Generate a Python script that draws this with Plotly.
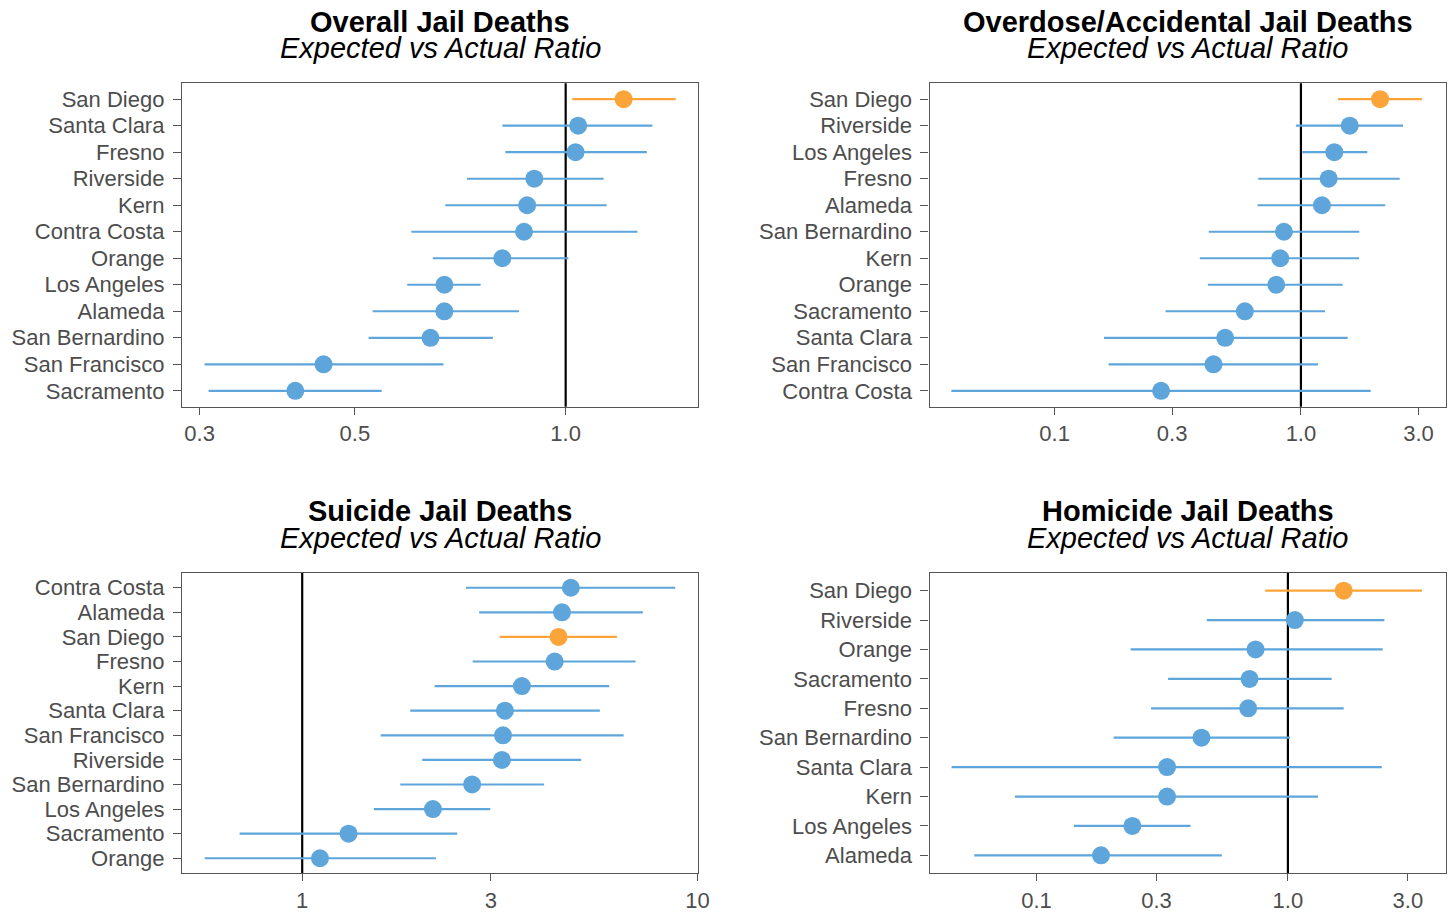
import plotly.graph_objects as go

# ---------------- data ----------------
overall_counties = ["San Diego", "Santa Clara", "Fresno", "Riverside", "Kern", "Contra Costa",
                    "Orange", "Los Angeles", "Alameda", "San Bernardino", "San Francisco", "Sacramento"]
overall_ratio = [1.21, 1.042, 1.033, 0.902, 0.881, 0.872, 0.812, 0.671, 0.671, 0.641, 0.451, 0.411]
overall_low = [1.022, 0.812, 0.820, 0.723, 0.673, 0.602, 0.646, 0.594, 0.530, 0.523, 0.305, 0.309]
overall_high = [1.436, 1.33, 1.306, 1.133, 1.144, 1.266, 1.009, 0.756, 0.858, 0.787, 0.669, 0.546]

overdose_counties = ["San Diego", "Riverside", "Los Angeles", "Fresno", "Alameda", "San Bernardino",
                     "Kern", "Orange", "Sacramento", "Santa Clara", "San Francisco", "Contra Costa"]
overdose_ratio = [2.096, 1.578, 1.366, 1.296, 1.217, 0.853, 0.824, 0.794, 0.592, 0.4925, 0.4416, 0.2705]
overdose_low = [1.414, 0.954, 1.012, 0.671, 0.667, 0.4226, 0.3886, 0.419, 0.282, 0.1586, 0.1658, 0.0381]
overdose_high = [3.10, 2.598, 1.86, 2.518, 2.20, 1.726, 1.721, 1.477, 1.252, 1.548, 1.173, 1.92]

suicide_counties = ["Contra Costa", "Alameda", "San Diego", "Fresno", "Kern", "Santa Clara",
                    "San Francisco", "Riverside", "San Bernardino", "Los Angeles", "Sacramento", "Orange"]
suicide_ratio = [4.78, 4.54, 4.45, 4.35, 3.594, 3.256, 3.219, 3.199, 2.69, 2.141, 1.31, 1.109]
suicide_low = [2.594, 2.803, 3.157, 2.698, 2.163, 1.876, 1.58, 2.012, 1.77, 1.518, 0.6945, 0.567]
suicide_high = [8.778, 7.27, 6.25, 6.97, 5.976, 5.66, 6.50, 5.077, 4.09, 2.989, 2.466, 2.178]

homicide_counties = ["San Diego", "Riverside", "Orange", "Sacramento", "Fresno", "San Bernardino",
                     "Santa Clara", "Kern", "Los Angeles", "Alameda"]
homicide_ratio = [1.667, 1.066, 0.7434, 0.7036, 0.695, 0.453, 0.3305, 0.3305, 0.2405, 0.1804]
homicide_low = [0.812, 0.4757, 0.2368, 0.3336, 0.2854, 0.2026, 0.0459, 0.08197, 0.1408, 0.0565]
homicide_high = [3.42, 2.42, 2.384, 1.493, 1.667, 1.018, 2.362, 1.317, 0.4095, 0.5458]

panel_titles = ["Overall Jail Deaths", "Overdose/Accidental Jail Deaths",
                "Suicide Jail Deaths", "Homicide Jail Deaths"]
subtitle = "Expected vs Actual Ratio"
highlight = "San Diego"

tick_vals = [[0.3, 0.5, 1.0], [0.1, 0.3, 1.0, 3.0], [1, 3, 10], [0.1, 0.3, 1.0, 3.0]]
tick_text = [["0.3", "0.5", "1.0"], ["0.1", "0.3", "1.0", "3.0"], ["1", "3", "10"],
             ["0.1", "0.3", "1.0", "3.0"]]
x_ranges = [[-0.548, 0.189], [-1.508, 0.589], [-0.304, 1.001], [-1.426, 0.629]]

BLUE = "#5DA5DA"
ORANGE = "#FAA43A"
W, H = 1454, 912

panels = [
    (overall_counties, overall_ratio, overall_low, overall_high),
    (overdose_counties, overdose_ratio, overdose_low, overdose_high),
    (suicide_counties, suicide_ratio, suicide_low, suicide_high),
    (homicide_counties, homicide_ratio, homicide_low, homicide_high),
]

# pixel boxes of the panels (left, right, top, bottom)
boxes = [(182, 698, 83.3, 406.7), (929.5, 1446, 83.3, 406.7),
         (182, 698, 573, 873), (929.5, 1446, 573, 873)]

fig = go.Figure()
layout = dict(
    template="none",
    width=W, height=H, autosize=False,
    margin=dict(l=0, r=0, t=0, b=0, pad=0),
    paper_bgcolor="white", plot_bgcolor="white",
    showlegend=False,
    font=dict(family="Liberation Sans, Arial, sans-serif", color="#4d4d4d", size=22),
)
annotations = []
shapes = []

for i, (cats, ratio, low, high) in enumerate(panels):
    n = i + 1
    xa = "x" if n == 1 else f"x{n}"
    ya = "y" if n == 1 else f"y{n}"
    for is_hl, color in [(False, BLUE), (True, ORANGE)]:
        idx = [k for k, c in enumerate(cats) if (c == highlight) == is_hl]
        fig.add_trace(go.Scatter(
            x=[ratio[k] for k in idx],
            y=[cats[k] for k in idx],
            mode="markers",
            marker=dict(color=color, size=18, line=dict(width=0)),
            error_x=dict(type="data", symmetric=False,
                         array=[high[k] - ratio[k] for k in idx],
                         arrayminus=[ratio[k] - low[k] for k in idx],
                         color=color, thickness=2.2, width=0),
            xaxis=xa, yaxis=ya, cliponaxis=False,
        ))
    l, r, t, b = boxes[i]
    axis_common = dict(showline=True, linecolor="#555555", linewidth=1.3, mirror=True,
                       ticks="outside", tickwidth=1.3, tickcolor="#555555",
                       showgrid=False, zeroline=False, automargin=False,
                       tickfont=dict(size=22, color="#4d4d4d"))
    layout["xaxis" if n == 1 else f"xaxis{n}"] = dict(
        axis_common, type="log", domain=[l / W, r / W], anchor=ya, ticklen=7,
        range=x_ranges[i], tickvals=tick_vals[i], ticktext=tick_text[i])
    layout["yaxis" if n == 1 else f"yaxis{n}"] = dict(
        axis_common, type="category", domain=[1 - b / H, 1 - t / H], anchor=xa,
        ticklen=8, ticklabelstandoff=4,
        categoryorder="array", categoryarray=list(reversed(cats)),
        tickmode="array", tickvals=list(cats),
        range=[-0.6, len(cats) - 0.4])
    shapes.append(dict(type="line", xref=xa, yref=f"{ya} domain", x0=1, x1=1, y0=0, y1=1,
                       line=dict(color="black", width=2.2), layer="below"))
    cx = (l + r) / 2 / W
    annotations.append(dict(text=f"<b>{panel_titles[i]}</b>", xref="paper", yref="paper",
                            x=cx, y=1 - (t - 61.5) / H, xanchor="center", yanchor="middle",
                            showarrow=False, font=dict(size=29, color="black")))
    annotations.append(dict(text=f"<i>{subtitle}</i>", xref="paper", yref="paper",
                            x=cx, y=1 - (t - 35.5) / H, xanchor="center", yanchor="middle",
                            showarrow=False, font=dict(size=29, color="black")))

layout["annotations"] = annotations
layout["shapes"] = shapes
fig.update_layout(**layout)
fig.write_html("out.html",
               config={"displayModeBar": False, "responsive": False},
               post_script="document.body.style.margin='0';document.body.style.overflow='hidden';")
